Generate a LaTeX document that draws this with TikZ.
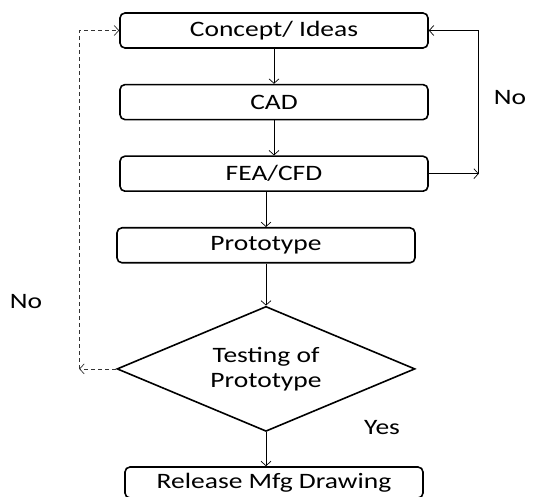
\documentclass[tikz,border=0pt]{standalone}
\usepackage{fontspec}
\setmainfont{Carlito}[FakeStretch=1.25]
\usepackage{tikz}
\usetikzlibrary{positioning,shapes.geometric,arrows.meta}
\tikzset{
  arr/.style={-{Straight Barb[length=4.5pt,width=10pt]}, line width=0.7pt},
  label text/.style={font=\fontsize{22}{25}\selectfont},
}

\begin{document}
\begin{tikzpicture}
                    \useasboundingbox (0,0) rectangle (539pt,-497pt);
                    \tikzstyle{item}=[rectangle, draw=black, rounded corners=5pt,
                        line width=1.6pt, label text, text centered,
                        minimum width=308pt, minimum height=35pt, inner sep=0pt]
                    \tikzstyle{test}=[diamond, draw=black, line width=1.6pt,
                        label text, align=center, inner sep=0pt, aspect=2.4,
                        minimum width=298pt, minimum height=125pt]
                    \node (Concept) [item] at (274pt,-30.5pt)
                        {Concept/ Ideas};
                        \node (CAD) [item, below= 35pt of Concept]
                        {CAD};
                        \node (FEA) [item, below= 35pt of CAD]
                        {FEA/CFD};
                        \node (Prototype) [item, minimum width=298pt,
                        below= 35pt of FEA, xshift=-8pt]
                        {Prototype};
                        \node (Testing) [test, below= 42pt of Prototype]
                        {Testing of\\Prototype};
                        \node (Release) [item, minimum width=298pt,
                        minimum height=31pt, below= 34pt of Testing, xshift=8pt]
                        {Release Mfg Drawing};

                        % loops back to the concept
                        \coordinate [right= 50pt of FEA.east] (RightTurn);
                        \coordinate [left= 37pt of Testing.west] (LeftTurn);

                        \draw[arr] (Concept) -- (CAD);
                        \draw[arr] (CAD) -- (FEA);
                        \draw[arr] (Prototype.north |- FEA.south) -- (Prototype.north);
                        \draw[arr] (Prototype) -- (Testing);
                        \draw[arr] (Testing.south) -- (Testing.south |- Release.north);
                        \draw[arr] (FEA.east) -- (RightTurn);
                        \draw[arr] (RightTurn) |- (Concept.east);
                        \draw[arr, dash pattern=on 4pt off 3pt, draw=black!80] (Testing.west) -- (LeftTurn);
                        \draw[arr, dash pattern=on 4pt off 3pt, draw=black!80] (LeftTurn) |- (Concept.west);

                        \node (NoRight) [label text] at (510pt,-98pt) {No};
                        \node (NoLeft) [label text] at (26pt,-302pt) {No};
                        \node (Yes) [label text] at (382pt,-428pt) {Yes};
                \end{tikzpicture}
\end{document}
